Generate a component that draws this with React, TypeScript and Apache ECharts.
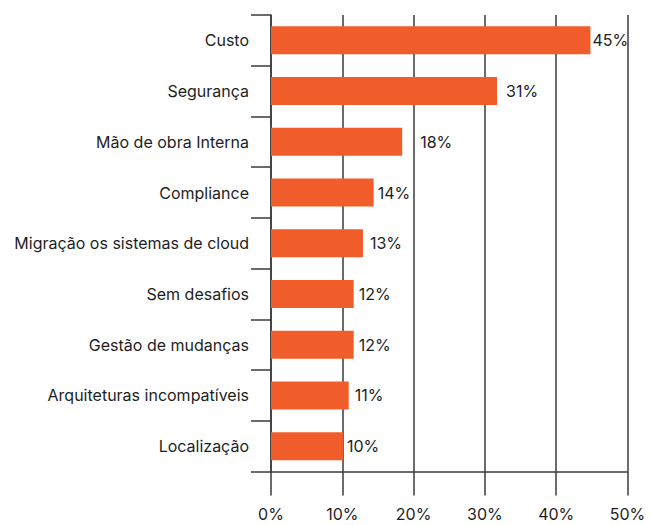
import React, { useEffect, useRef } from "react";
import * as echarts from "echarts";

const categories = [
  "Custo",
  "Segurança",
  "Mão de obra Interna",
  "Compliance",
  "Migração os sistemas de cloud",
  "Sem desafios",
  "Gestão de mudanças",
  "Arquiteturas incompatíveis",
  "Localização",
];
const values = [44.8, 31.7, 18.4, 14.4, 12.9, 11.6, 11.6, 10.9, 10.1];
const valueLabels = ["45%", "31%", "18%", "14%", "13%", "12%", "12%", "11%", "10%"];
const labelGaps = [2, 9, 18, 4, 7, 5, 5, 6, 4];
const xTicks = [0, 10, 20, 30, 40, 50];

const FONT = "Inter, 'Noto Sans', sans-serif";
const LINE = "#3a3a3a";
const TEXT = "#1e1e1e";

export default function App() {
  const ref = useRef<HTMLDivElement>(null);
  useEffect(() => {
    if (!ref.current) return;
    const chart = echarts.init(ref.current, null, { renderer: "svg" });
    chart.setOption({
      animation: false,
      backgroundColor: "#ffffff",
      grid: { left: 271, right: 24.5, top: 15, bottom: 53.5, containLabel: false },
      xAxis: {
        type: "value",
        min: xTicks[0],
        max: xTicks[xTicks.length - 1],
        interval: 10,
        axisLine: { show: true, lineStyle: { color: LINE, width: 1.5 } },
        axisTick: { show: true, length: 24, lineStyle: { color: LINE, width: 1.5 } },
        splitLine: { show: true, lineStyle: { color: LINE, width: 1.5 } },
        axisLabel: {
          formatter: "{value}%",
          margin: 34,
          fontSize: 16,
          color: TEXT,
          fontFamily: FONT,
        },
      },
      yAxis: {
        type: "category",
        inverse: true,
        data: categories,
        axisLine: { show: true, lineStyle: { color: LINE, width: 1.5 } },
        axisTick: { show: true, length: 20, lineStyle: { color: LINE, width: 1.5 } },
        axisLabel: { margin: 22, fontSize: 16, color: TEXT, fontFamily: FONT },
      },
      series: [
        {
          type: "bar",
          barWidth: 28,
          itemStyle: { color: "#F15D2A" },
          data: values.map((v, i) => ({
            value: v,
            label: {
              show: true,
              position: "right",
              distance: labelGaps[i],
              formatter: valueLabels[i],
              fontSize: 16,
              color: TEXT,
              fontFamily: FONT,
            },
          })),
        },
      ],
    });
    return () => chart.dispose();
  }, []);
  return <div ref={ref} style={{ width: 652, height: 525, position: "absolute", left: 0, top: 0 }} />;
}
